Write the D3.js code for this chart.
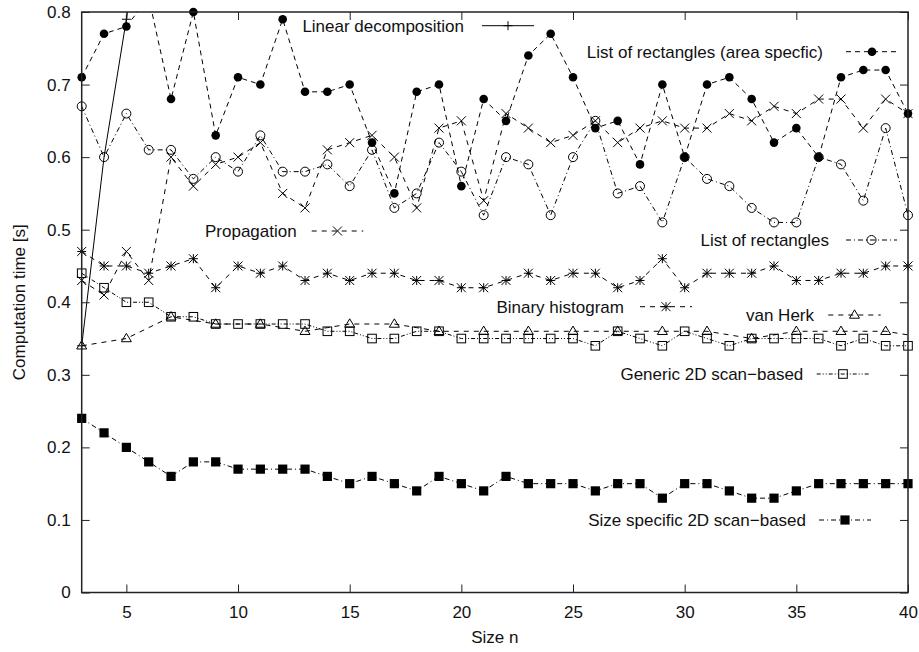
<!DOCTYPE html>
<html>
<head>
<meta charset="utf-8">
<script src="https://cdn.jsdelivr.net/npm/d3@7"></script>
<style>
  html, body { margin: 0; padding: 0; background: #fff; }
  svg { display: block; font-family: "Liberation Sans", Arial, Helvetica, sans-serif; }
</style>
</head>
<body>
<svg id="chart" width="919" height="652"></svg>
<script>
// ---------------- DATA ----------------
const sizes = [3,4,5,6,7,8,9,10,11,12,13,14,15,16,17,18,19,20,21,22,23,24,25,26,27,28,29,30,31,32,33,34,35,36,37,38,39,40];

const linearSizes = [3,4,5,6];
const linearDecomposition = [0.34,0.60,0.79,1.00];

const areaSpecific = [0.71,0.77,0.78,0.82,0.68,0.80,0.63,0.71,0.70,0.79,0.69,0.69,0.70,0.62,0.55,0.69,0.70,0.56,0.68,0.65,0.74,0.77,0.71,0.64,0.65,0.59,0.70,0.60,0.70,0.71,0.68,0.62,0.64,0.60,0.71,0.72,0.72,0.66];

const propagation = [0.43,0.41,0.47,0.43,0.60,0.56,0.59,0.60,0.62,0.55,0.53,0.61,0.62,0.63,0.60,0.53,0.64,0.65,0.54,0.66,0.64,0.62,0.63,0.65,0.62,0.64,0.65,0.64,0.64,0.66,0.65,0.67,0.66,0.68,0.68,0.64,0.68,0.66];

const listRectangles = [0.67,0.60,0.66,0.61,0.61,0.57,0.60,0.58,0.63,0.58,0.58,0.59,0.56,0.61,0.53,0.55,0.62,0.58,0.52,0.60,0.59,0.52,0.60,0.65,0.55,0.56,0.51,0.60,0.57,0.56,0.53,0.51,0.51,0.60,0.59,0.54,0.64,0.52];

const binaryHistogram = [0.47,0.45,0.45,0.44,0.45,0.46,0.42,0.45,0.44,0.45,0.43,0.44,0.43,0.44,0.44,0.43,0.43,0.42,0.42,0.43,0.44,0.43,0.44,0.44,0.42,0.43,0.46,0.42,0.44,0.44,0.44,0.45,0.43,0.43,0.44,0.44,0.45,0.45];

const vanHerk = [0.34,0.345,0.35,0.365,0.38,0.375,0.37,0.37,0.37,0.365,0.36,0.365,0.37,0.37,0.37,0.365,0.36,0.36,0.36,0.36,0.36,0.36,0.36,0.36,0.36,0.36,0.36,0.36,0.36,0.355,0.35,0.355,0.36,0.36,0.36,0.36,0.36,0.355];

const generic2D = [0.44,0.42,0.40,0.40,0.38,0.38,0.37,0.37,0.37,0.37,0.37,0.36,0.36,0.35,0.35,0.36,0.36,0.35,0.35,0.35,0.35,0.35,0.35,0.34,0.36,0.35,0.34,0.36,0.35,0.34,0.35,0.35,0.35,0.35,0.34,0.35,0.34,0.34];

const sizeSpecific2D = [0.24,0.22,0.20,0.18,0.16,0.18,0.18,0.17,0.17,0.17,0.17,0.16,0.15,0.16,0.15,0.14,0.16,0.15,0.14,0.16,0.15,0.15,0.15,0.14,0.15,0.15,0.13,0.15,0.15,0.14,0.13,0.13,0.14,0.15,0.15,0.15,0.15,0.15];

const xTicks = [5,10,15,20,25,30,35,40];
const yTicks = [0,0.1,0.2,0.3,0.4,0.5,0.6,0.7,0.8];
const xLabel = "Size n";
const yLabel = "Computation time [s]";

const seriesNames = [
  "Linear decomposition",
  "List of rectangles (area specfic)",
  "Propagation",
  "List of rectangles",
  "Binary histogram",
  "van Herk",
  "Generic 2D scan\u2212based",
  "Size specific 2D scan\u2212based"
];

// ---------------- STYLE / LAYOUT ----------------
const W = 919, H = 652;
const plot = { left: 81.7, right: 908, top: 12, bottom: 592.5 };
const FONT = 17;

const x = d3.scaleLinear().domain([3, 40]).range([plot.left, plot.right]);
const y = d3.scaleLinear().domain([0, 0.8]).range([plot.bottom, plot.top]);

const series = [
  { name: seriesNames[0], xs: linearSizes, ys: linearDecomposition, marker: "plus",   dash: null,          every: 2 },
  { name: seriesNames[1], xs: sizes, ys: areaSpecific,    marker: "fcircle", dash: "5,4",        every: 1 },
  { name: seriesNames[2], xs: sizes, ys: propagation,     marker: "cross",   dash: "5,5",        every: 1 },
  { name: seriesNames[3], xs: sizes, ys: listRectangles,  marker: "ocircle", dash: "5,3,1,3",    every: 1 },
  { name: seriesNames[4], xs: sizes, ys: binaryHistogram, marker: "star",    dash: "5,5",        every: 1 },
  { name: seriesNames[5], xs: sizes, ys: vanHerk,         marker: "triangle",dash: "5,5",        every: 2 },
  { name: seriesNames[6], xs: sizes, ys: generic2D,       marker: "osquare", dash: "4,2,1,2,1,2",every: 1 },
  { name: seriesNames[7], xs: sizes, ys: sizeSpecific2D,  marker: "fsquare", dash: "5,3,1,3",    every: 1 }
];

// legend layout: text right edge, vertical centre, sample start / end (pixels)
const legendLayout = [
  { textEnd: 464, cy: 25.7, s0: 482, s1: 534 },
  { textEnd: 823, cy: 51.7, s0: 846, s1: 898 },
  { textEnd: 296.7, cy: 231, s0: 311.7, s1: 363.3 },
  { textEnd: 829, cy: 240, s0: 846, s1: 897 },
  { textEnd: 624, cy: 306.7, s0: 640, s1: 692 },
  { textEnd: 814, cy: 315, s0: 828.3, s1: 880.7 },
  { textEnd: 803.3, cy: 374, s0: 816.7, s1: 869.3 },
  { textEnd: 806, cy: 520, s0: 819, s1: 871 }
];

const svg = d3.select("#chart");

svg.append("defs").append("clipPath").attr("id", "clip")
  .append("rect")
  .attr("x", plot.left).attr("y", plot.top)
  .attr("width", plot.right - plot.left).attr("height", plot.bottom - plot.top);

// marker drawing
const h = 4.5;
function drawMarker(g, type, cx, cy) {
  const sw = 1;
  switch (type) {
    case "plus":
      g.append("path").attr("d", `M${cx-h},${cy}H${cx+h}M${cx},${cy-h}V${cy+h}`)
        .attr("stroke", "#000").attr("stroke-width", sw).attr("fill", "none");
      break;
    case "cross":
      g.append("path").attr("d", `M${cx-h},${cy-h}L${cx+h},${cy+h}M${cx-h},${cy+h}L${cx+h},${cy-h}`)
        .attr("stroke", "#000").attr("stroke-width", sw).attr("fill", "none");
      break;
    case "star":
      g.append("path").attr("d", `M${cx-h},${cy}H${cx+h}M${cx},${cy-h}V${cy+h}M${cx-h},${cy-h}L${cx+h},${cy+h}M${cx-h},${cy+h}L${cx+h},${cy-h}`)
        .attr("stroke", "#000").attr("stroke-width", sw).attr("fill", "none");
      break;
    case "fcircle":
      g.append("circle").attr("cx", cx).attr("cy", cy).attr("r", 4.3).attr("fill", "#000");
      break;
    case "ocircle":
      g.append("circle").attr("cx", cx).attr("cy", cy).attr("r", 4.5)
        .attr("fill", "none").attr("stroke", "#000").attr("stroke-width", sw);
      break;
    case "fsquare":
      g.append("rect").attr("x", cx-4.6).attr("y", cy-4.6).attr("width", 9.2).attr("height", 9.2).attr("fill", "#000");
      break;
    case "osquare":
      g.append("rect").attr("x", cx-4.3).attr("y", cy-4.3).attr("width", 8.6).attr("height", 8.6)
        .attr("fill", "none").attr("stroke", "#000").attr("stroke-width", sw);
      break;
    case "triangle":
      g.append("path").attr("d", `M${cx},${cy-5.2}L${cx+5},${cy+3.2}L${cx-5},${cy+3.2}Z`)
        .attr("fill", "none").attr("stroke", "#000").attr("stroke-width", sw);
      break;
  }
}

// lines
const lineGen = d3.line().x(d => x(d[0])).y(d => y(d[1]));
const linesG = svg.append("g").attr("clip-path", "url(#clip)");
series.forEach(s => {
  const pts = s.xs.map((v, i) => [v, s.ys[i]]);
  const p = linesG.append("path").attr("d", lineGen(pts))
    .attr("fill", "none").attr("stroke", "#000").attr("stroke-width", 1);
  if (s.dash) p.attr("stroke-dasharray", s.dash);
});

// markers
const markG = svg.append("g");
series.forEach(s => {
  s.xs.forEach((v, i) => {
    if (i % s.every !== 0) return;
    const val = s.ys[i];
    if (val > 0.8 + 1e-9 || val < 0) return;
    drawMarker(markG, s.marker, x(v), y(val));
  });
});

// axes frame
const axG = svg.append("g");
const tickLen = 8;
const axisColor = "#222";

const bottomAxis = d3.axisBottom(x).tickValues(xTicks).tickSizeInner(-tickLen).tickSizeOuter(0).tickFormat(d3.format("d"));
const topAxis = d3.axisTop(x).tickValues(xTicks).tickSizeInner(-tickLen).tickSizeOuter(0).tickFormat("");
const leftAxis = d3.axisLeft(y).tickValues(yTicks).tickSizeInner(-tickLen).tickSizeOuter(0).tickPadding(11).tickFormat(d => d === 0 ? "0" : d3.format(".1f")(d));
const rightAxis = d3.axisRight(y).tickValues(yTicks).tickSizeInner(-tickLen).tickSizeOuter(0).tickFormat("");

function styleAxis(g) {
  g.select(".domain").remove();
  g.selectAll(".tick line").attr("stroke", axisColor).attr("stroke-width", 1);
  g.selectAll(".tick text").attr("fill", "#111").style("font-size", FONT + "px").style("font-family", "Liberation Sans, Arial, sans-serif");
}

axG.append("g").attr("transform", `translate(0,${plot.bottom})`).call(bottomAxis).call(styleAxis)
  .selectAll(".tick text").attr("dy", null).attr("y", 25);
axG.append("g").attr("transform", `translate(0,${plot.top})`).call(topAxis).call(styleAxis);
axG.append("g").attr("transform", `translate(${plot.left},0)`).call(leftAxis).call(styleAxis);
axG.append("g").attr("transform", `translate(${plot.right},0)`).call(rightAxis).call(styleAxis);

axG.append("rect")
  .attr("x", plot.left).attr("y", plot.top)
  .attr("width", plot.right - plot.left).attr("height", plot.bottom - plot.top)
  .attr("fill", "none").attr("stroke", axisColor).attr("stroke-width", 1.5);

// axis titles
svg.append("text").attr("x", (plot.left + plot.right) / 2).attr("y", 643)
  .attr("text-anchor", "middle").style("font-size", FONT + "px").attr("fill", "#111").text(xLabel);
svg.append("text").attr("transform", `translate(25,${(plot.top + plot.bottom) / 2}) rotate(-90)`)
  .attr("text-anchor", "middle").style("font-size", FONT + "px").attr("fill", "#111").text(yLabel);

// legend entries
const legG = svg.append("g");
series.forEach((s, i) => {
  const L = legendLayout[i];
  legG.append("text").attr("x", L.textEnd).attr("y", L.cy + 6)
    .attr("text-anchor", "end").style("font-size", FONT + "px").attr("fill", "#111").text(s.name);
  const p = legG.append("path").attr("d", `M${L.s0},${L.cy}H${L.s1}`)
    .attr("stroke", "#000").attr("stroke-width", 1).attr("fill", "none");
  if (s.dash) p.attr("stroke-dasharray", s.dash);
  drawMarker(legG, s.marker, (L.s0 + L.s1) / 2, L.cy);
});
</script>
</body>
</html>
